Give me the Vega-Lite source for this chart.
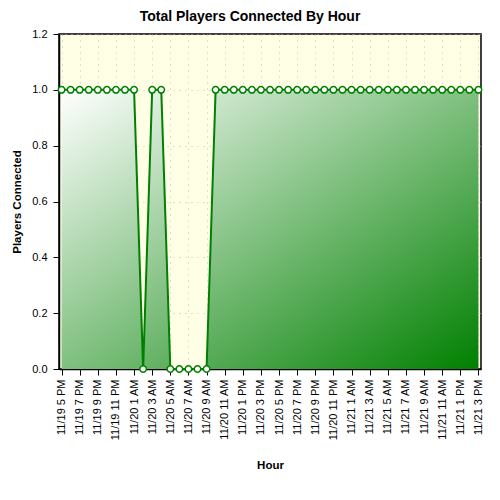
{
  "$schema": "https://vega.github.io/schema/vega-lite/v6.json",
  "autosize": "none",
  "padding": {"left": 59, "top": 34, "right": 19, "bottom": 131},
  "width": 422,
  "height": 335,
  "title": {
    "text": "Total Players Connected By Hour",
    "font": "Liberation Sans",
    "fontSize": 14,
    "fontWeight": "bold",
    "color": "black",
    "anchor": "middle",
    "dx": -20,
    "offset": 4
  },
  "data": {
    "values": [
      {"hour": "2023-11-19T17:00:00", "players": 1, "server": "Lowlands"},
      {"hour": "2023-11-19T18:00:00", "players": 1, "server": "Lowlands"},
      {"hour": "2023-11-19T19:00:00", "players": 1, "server": "Lowlands"},
      {"hour": "2023-11-19T20:00:00", "players": 1, "server": "Lowlands"},
      {"hour": "2023-11-19T21:00:00", "players": 1, "server": "Lowlands"},
      {"hour": "2023-11-19T22:00:00", "players": 1, "server": "Lowlands"},
      {"hour": "2023-11-19T23:00:00", "players": 1, "server": "Lowlands"},
      {"hour": "2023-11-20T00:00:00", "players": 1, "server": "Lowlands"},
      {"hour": "2023-11-20T01:00:00", "players": 1, "server": "Lowlands"},
      {"hour": "2023-11-20T02:00:00", "players": 0, "server": "Lowlands"},
      {"hour": "2023-11-20T03:00:00", "players": 1, "server": "Lowlands"},
      {"hour": "2023-11-20T04:00:00", "players": 1, "server": "Lowlands"},
      {"hour": "2023-11-20T05:00:00", "players": 0, "server": "Lowlands"},
      {"hour": "2023-11-20T06:00:00", "players": 0, "server": "Lowlands"},
      {"hour": "2023-11-20T07:00:00", "players": 0, "server": "Lowlands"},
      {"hour": "2023-11-20T08:00:00", "players": 0, "server": "Lowlands"},
      {"hour": "2023-11-20T09:00:00", "players": 0, "server": "Lowlands"},
      {"hour": "2023-11-20T10:00:00", "players": 1, "server": "Lowlands"},
      {"hour": "2023-11-20T11:00:00", "players": 1, "server": "Lowlands"},
      {"hour": "2023-11-20T12:00:00", "players": 1, "server": "Lowlands"},
      {"hour": "2023-11-20T13:00:00", "players": 1, "server": "Lowlands"},
      {"hour": "2023-11-20T14:00:00", "players": 1, "server": "Lowlands"},
      {"hour": "2023-11-20T15:00:00", "players": 1, "server": "Lowlands"},
      {"hour": "2023-11-20T16:00:00", "players": 1, "server": "Lowlands"},
      {"hour": "2023-11-20T17:00:00", "players": 1, "server": "Lowlands"},
      {"hour": "2023-11-20T18:00:00", "players": 1, "server": "Lowlands"},
      {"hour": "2023-11-20T19:00:00", "players": 1, "server": "Lowlands"},
      {"hour": "2023-11-20T20:00:00", "players": 1, "server": "Lowlands"},
      {"hour": "2023-11-20T21:00:00", "players": 1, "server": "Lowlands"},
      {"hour": "2023-11-20T22:00:00", "players": 1, "server": "Lowlands"},
      {"hour": "2023-11-20T23:00:00", "players": 1, "server": "Lowlands"},
      {"hour": "2023-11-21T00:00:00", "players": 1, "server": "Lowlands"},
      {"hour": "2023-11-21T01:00:00", "players": 1, "server": "Lowlands"},
      {"hour": "2023-11-21T02:00:00", "players": 1, "server": "Lowlands"},
      {"hour": "2023-11-21T03:00:00", "players": 1, "server": "Lowlands"},
      {"hour": "2023-11-21T04:00:00", "players": 1, "server": "Lowlands"},
      {"hour": "2023-11-21T05:00:00", "players": 1, "server": "Lowlands"},
      {"hour": "2023-11-21T06:00:00", "players": 1, "server": "Lowlands"},
      {"hour": "2023-11-21T07:00:00", "players": 1, "server": "Lowlands"},
      {"hour": "2023-11-21T08:00:00", "players": 1, "server": "Lowlands"},
      {"hour": "2023-11-21T09:00:00", "players": 1, "server": "Lowlands"},
      {"hour": "2023-11-21T10:00:00", "players": 1, "server": "Lowlands"},
      {"hour": "2023-11-21T11:00:00", "players": 1, "server": "Lowlands"},
      {"hour": "2023-11-21T12:00:00", "players": 1, "server": "Lowlands"},
      {"hour": "2023-11-21T13:00:00", "players": 1, "server": "Lowlands"},
      {"hour": "2023-11-21T14:00:00", "players": 1, "server": "Lowlands"},
      {"hour": "2023-11-21T15:00:00", "players": 1, "server": "Lowlands"}
    ]
  },
  "layer": [
    {
      "mark": {
        "type": "area",
        "color": {
          "gradient": "linear",
          "x1": 0, "y1": 0, "x2": 1, "y2": 1,
          "stops": [
            {"offset": 0, "color": "#ffffff"},
            {"offset": 1, "color": "#008000"}
          ]
        }
      },
      "encoding": {
        "x": {
          "field": "hour",
          "type": "temporal",
          "title": "Hour",
          "scale": {
            "nice": false,
            "domain": [
              {"year": 2023, "month": 11, "date": 19, "hours": 16, "minutes": 43},
              {"year": 2023, "month": 11, "date": 21, "hours": 15, "minutes": 17}
            ]
          },
          "axis": {
            "values": [
              {"year": 2023, "month": 11, "date": 19, "hours": 17},
              {"year": 2023, "month": 11, "date": 19, "hours": 19},
              {"year": 2023, "month": 11, "date": 19, "hours": 21},
              {"year": 2023, "month": 11, "date": 19, "hours": 23},
              {"year": 2023, "month": 11, "date": 20, "hours": 1},
              {"year": 2023, "month": 11, "date": 20, "hours": 3},
              {"year": 2023, "month": 11, "date": 20, "hours": 5},
              {"year": 2023, "month": 11, "date": 20, "hours": 7},
              {"year": 2023, "month": 11, "date": 20, "hours": 9},
              {"year": 2023, "month": 11, "date": 20, "hours": 11},
              {"year": 2023, "month": 11, "date": 20, "hours": 13},
              {"year": 2023, "month": 11, "date": 20, "hours": 15},
              {"year": 2023, "month": 11, "date": 20, "hours": 17},
              {"year": 2023, "month": 11, "date": 20, "hours": 19},
              {"year": 2023, "month": 11, "date": 20, "hours": 21},
              {"year": 2023, "month": 11, "date": 20, "hours": 23},
              {"year": 2023, "month": 11, "date": 21, "hours": 1},
              {"year": 2023, "month": 11, "date": 21, "hours": 3},
              {"year": 2023, "month": 11, "date": 21, "hours": 5},
              {"year": 2023, "month": 11, "date": 21, "hours": 7},
              {"year": 2023, "month": 11, "date": 21, "hours": 9},
              {"year": 2023, "month": 11, "date": 21, "hours": 11},
              {"year": 2023, "month": 11, "date": 21, "hours": 13},
              {"year": 2023, "month": 11, "date": 21, "hours": 15}
            ],
            "tickCount": 50,
            "format": "%-m/%-d %-I %p",
            "labelAngle": 270,
            "labelOverlap": false,
            "labelFlush": false,
            "labelPadding": 4,
            "tickSize": 6,
            "titlePadding": 20
          }
        },
        "y": {
          "field": "players",
          "type": "quantitative",
          "title": "Players Connected",
          "scale": {"domain": [0, 1.2], "nice": false},
          "axis": {
            "values": [0, 0.2, 0.4, 0.6, 0.8, 1, 1.2],
            "tickCount": 20,
            "format": ".1f",
            "labelFlush": false,
            "labelPadding": 6,
            "tickSize": 6,
            "titlePadding": 9
          }
        }
      }
    },
    {
      "mark": {"type": "line", "color": "#008000", "strokeWidth": 2},
      "encoding": {
        "x": {"field": "hour", "type": "temporal"},
        "y": {"field": "players", "type": "quantitative"}
      }
    },
    {
      "mark": {
        "type": "point",
        "shape": "circle",
        "size": 42,
        "filled": true,
        "fill": "white",
        "stroke": "#008000",
        "strokeWidth": 1.5,
        "opacity": 1
      },
      "encoding": {
        "x": {"field": "hour", "type": "temporal"},
        "y": {"field": "players", "type": "quantitative"}
      }
    }
  ],
  "config": {
    "view": {"fill": "#FFFFE6", "stroke": "black", "strokeWidth": 1.5},
    "axis": {
      "domainColor": "black",
      "domainWidth": 1.5,
      "tickColor": "black",
      "tickWidth": 1,
      "labelFont": "Liberation Sans",
      "labelFontSize": 11,
      "labelColor": "black",
      "titleFont": "Liberation Sans",
      "titleFontSize": 11.5,
      "titleFontWeight": "bold",
      "titleColor": "black",
      "grid": true,
      "gridColor": "#bdbdbd",
      "gridDash": [1, 5],
      "gridWidth": 1
    }
  }
}
